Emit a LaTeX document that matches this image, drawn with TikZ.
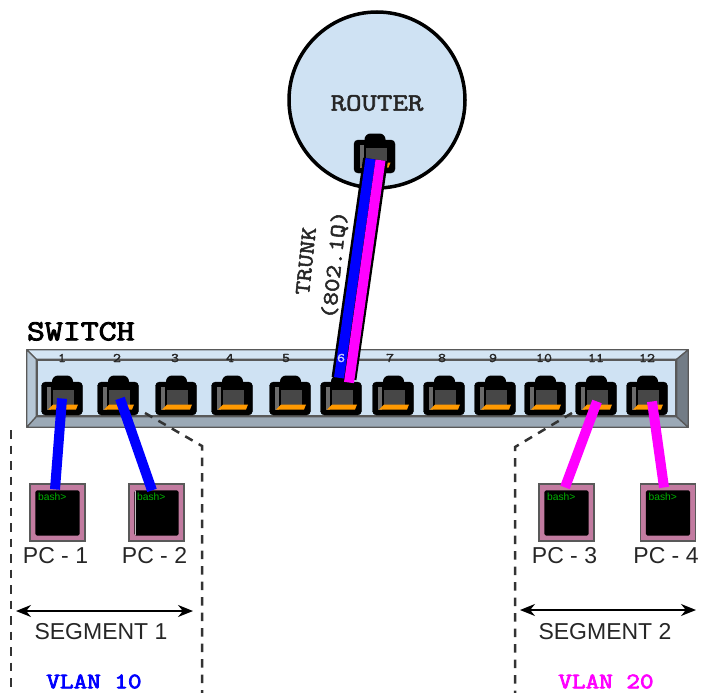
\documentclass[tikz,border=0pt]{standalone}
\usepackage{fontspec}
\setmainfont{Liberation Sans}
\newfontfamily\monomed[FakeBold=2]{Latin Modern Mono}
\newfontfamily\monoheavy[FakeBold=3]{Latin Modern Mono}
\usetikzlibrary{arrows.meta,positioning,calc}
\definecolor{cface}{HTML}{CFE2F3}
\definecolor{cvblue}{HTML}{0000FF}
\definecolor{cvpink}{HTML}{FF00FF}
\definecolor{cframe}{HTML}{C27BA0}
\definecolor{cedge}{HTML}{595959}
\definecolor{corange}{HTML}{FF9900}
\newcommand{\widemono}[1]{\scalebox{1.2}[1]{#1}}
% body of a port is the node, the rest sits on top of it
\newcommand{\portparts}[1]{
  \fill[black,rounded corners=6pt] ($(#1)+(-10,-23)$) rectangle ($(#1)+(11,-5)$);
  \fill[black!58] ($(#1)+(-15,-12)$) rectangle ($(#1)+(-11,11)$);
  \fill[black!72] ($(#1)+(-9,-9)$) rectangle ($(#1)+(12,8)$);
  \fill[corange] ($(#1)+(-14,11)$) -- ($(#1)+(-9,6)$) -- ($(#1)+(16,6)$) -- ($(#1)+(14,11)$) -- cycle;
}
\begin{document}
\begin{tikzpicture}[x=1pt,y=-1pt,
    portbody/.style={rectangle,fill=black,draw=black,rounded corners=4pt,minimum width=41pt,minimum height=33pt,inner sep=0pt},
    pcbox/.style={rectangle,fill=cframe,draw=cedge,line width=1.2pt,minimum width=55pt,minimum height=57pt,inner sep=0pt},
    pclabel/.style={font=\fontsize{23}{25}\selectfont,text=black!85,inner sep=0pt},
    prompt/.style={font=\fontsize{10.3}{12}\selectfont,text=green!70!black,inner sep=0pt},
    portnum/.style={font=\monomed\fontsize{13}{13}\selectfont,text=black!85,inner sep=0pt},
    bevel/.style={draw=cedge,line width=1.3pt,line join=round},
    vlancable/.style={line width=10pt},
    zone/.style={dash pattern=on 8.5pt off 7pt,line width=2.5pt,draw=black!80},
    span/.style={{Stealth[length=15pt,width=12pt]}-{Stealth[length=15pt,width=12pt]},line width=1.7pt}]
    \useasboundingbox (0,0) rectangle (704,693);
    % router
    \node[circle,draw=black,fill=cface,line width=3.5pt,minimum size=176pt,inner sep=0pt] (router) at (377,100) {};
    \node[font=\monomed\fontsize{25}{25}\selectfont,text=black!85,inner sep=0pt] (routertext) at (377,103) {\widemono{ROUTER}};
    % switch
    \node[rectangle,minimum width=661pt,minimum height=77pt,inner sep=0pt] (sw) at (357.5,388.5) {};
    \node[rectangle,fill=cface,draw=cedge,line width=1.3pt,minimum width=639pt,minimum height=56pt,inner sep=0pt] (swface) at (356.5,388) {};
    \draw[bevel,fill=cface!90!white] (sw.north west)--(sw.north east)--(swface.north east)--(swface.north west)--cycle;
    \draw[bevel,fill=black!12!cface] (sw.north west)--(swface.north west)--(swface.south west)--(sw.south west)--cycle;
    \draw[bevel,fill=black!25!cface] (sw.south west)--(swface.south west)--(swface.south east)--(sw.south east)--cycle;
    \draw[bevel,fill=black!45!cface] (sw.north east)--(swface.north east)--(swface.south east)--(sw.south east)--cycle;
    \node[font=\monoheavy\fontsize{29}{29}\selectfont,inner sep=0pt,above right=9pt and 0pt of sw.north west] (swtext) {\widemono{SWITCH}};
    \foreach \n/\x/\lx in {1/62/62,2/118/117,3/176/175,4/232/230,5/290/286,6/341/341,7/393/390,8/444/442,9/495/493,10/545/544,11/596/596,12/647/647}{
      \node[portbody] (p\n) at (\x,398.5) {};
      \portparts{p\n}
      \node[portnum] (n\n) at (\lx,358) {\widemono{\n}};
    }
    \node[portbody] (prouter) at (374.5,156.5) {};
    \portparts{prouter}
    % computers
    \foreach \n/\x in {1/57.5,2/156.5,3/566.5,4/668}{
      \node[pcbox] (pc\n) at (\x,512.5) {};
      \fill[black,rounded corners=1.5pt] ($(pc\n.north west)+(6,7)$) rectangle ($(pc\n.south east)+(-6,-6)$);
      \node[prompt,anchor=west] (bash\n) at ($(pc\n.north west)+(8.5,13.5)$) {bash>};
      \node[pclabel,below=6pt of pc\n,xshift=-2pt] (l\n) {PC - \n};
    }
    \draw[white!75!black,line width=1pt] ($(pc2.north west)+(7,8)$) -- ($(pc2.south west)+(7,-7)$);
    % cables
    \draw[vlancable,cvblue] (p1.center) -- ([shift={(-2.5,6)}]pc1.north);
    \draw[vlancable,cvblue] ([xshift=2pt]p2.center) -- ([shift={(-4.5,7)}]pc2.north);
    \draw[vlancable,cvpink] ([shift={(1,3)}]p11.center) -- ([shift={(-1.5,4)}]pc3.north);
    \draw[vlancable,cvpink] ([shift={(5,3)}]p12.center) -- ([shift={(-4,4)}]pc4.north);
    % trunk
    \coordinate (ttop) at ($(prouter.center)+(1,3)$);
    \coordinate (tbot) at ($(p6.center)+(3,-20)$);
    \draw[line width=25pt,black] (ttop) -- (tbot);
    \draw[line width=10pt,cvblue] ([shift={(-5,-0.7)}]ttop) -- ([shift={(-5,-0.7)}]tbot);
    \draw[line width=10pt,cvpink] ([shift={(5,0.7)}]ttop) -- ([shift={(5,4)}]tbot);
    \node[font=\monomed\fontsize{13}{13}\selectfont,text=white!80!cvblue,inner sep=0pt] at (n6) {\widemono{6}};
    \node[font=\monomed\fontsize{22}{22}\selectfont,text=black!85,rotate=84,inner sep=0pt] (trunk) at (306,261) {\widemono{TRUNK}};
    \node[font=\monomed\fontsize{22}{22}\selectfont,text=black!85,rotate=84,inner sep=0pt] (dotq) at (335,265) {\widemono{(802.1Q)}};
    % segments
    \coordinate (s1a) at (11,430); \coordinate (s1b) at (11,693);
    \coordinate (s2a) at (145,413); \coordinate (s2b) at (202,446); \coordinate (s2c) at (202,693);
    \coordinate (s3a) at (572,413); \coordinate (s3b) at (515,447); \coordinate (s3c) at (515,693);
    \draw[zone] (s1a) -- (s1b);
    \draw[zone] (s2a) -- (s2b) -- (s2c);
    \draw[zone] (s3a) -- (s3b) -- (s3c);
    \coordinate (a1) at (16,611); \coordinate (b1) at (193,611);
    \coordinate (a2) at (520,610); \coordinate (b2) at (696,610);
    \draw[span] (a1) -- (b1);
    \draw[span] (a2) -- (b2);
    \node[pclabel] (seg1) at (101,632) {SEGMENT 1};
    \node[pclabel] (seg2) at (605,632) {SEGMENT 2};
    \node[font=\monoheavy\fontsize{22}{22}\selectfont,text=cvblue,inner sep=0pt] (vlan1) at (94,681.5) {\widemono{VLAN 10}};
    \node[font=\monoheavy\fontsize{22}{22}\selectfont,text=cvpink,inner sep=0pt] (vlan2) at (606,681.5) {\widemono{VLAN 20}};
  \end{tikzpicture}
\end{document}
